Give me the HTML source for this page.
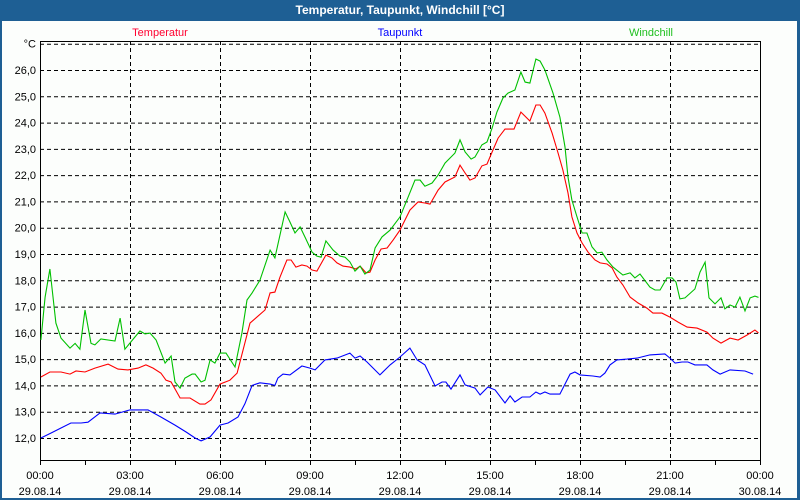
<!DOCTYPE html>
<html><head><meta charset="utf-8">
<style>
html,body{margin:0;padding:0;background:#fff;}
#wrap{position:relative;width:800px;height:500px;background:#1e5f94;overflow:hidden;font-family:"Liberation Sans",sans-serif;}
#title{position:absolute;left:0;top:0;width:800px;height:21px;line-height:21px;text-align:center;color:#fff;font-weight:bold;font-size:12px;}
#panel{position:absolute;left:2px;top:21px;width:795px;height:477px;background:#fcfefc;}
svg{position:absolute;left:0;top:0;}
svg text{font-family:"Liberation Sans",sans-serif;font-size:11px;}
</style></head>
<body>
<div id="wrap">
<div id="title">Temperatur, Taupunkt, Windchill [°C]</div>
<div id="panel"></div>
<svg id="chart" width="800" height="500"></svg>
</div>
<script>
const yTicks=[12,13,14,15,16,17,18,19,20,21,22,23,24,25,26];
const xTickHours=[0,3,6,9,12,15,18,21,24];
const xTimeLabels=["00:00","03:00","06:00","09:00","12:00","15:00","18:00","21:00","00:00"];
const xDateLabels=["29.08.14","29.08.14","29.08.14","29.08.14","29.08.14","29.08.14","29.08.14","29.08.14","30.08.14"];
const seriesNames=["Temperatur","Taupunkt","Windchill"];
const tempT=[0.03,0.33,0.70,1.00,1.20,1.50,1.83,2.27,2.60,2.93,3.27,3.53,3.77,4.03,4.20,4.37,4.67,5.00,5.33,5.50,5.70,6.00,6.33,6.57,6.77,7.00,7.23,7.50,7.67,7.83,8.00,8.23,8.37,8.53,8.73,8.90,9.07,9.23,9.53,9.73,9.90,10.10,10.33,10.53,10.67,10.87,11.00,11.17,11.37,11.57,11.77,12.00,12.33,12.60,12.83,13.00,13.27,13.50,13.83,14.00,14.17,14.33,14.50,14.73,14.90,15.07,15.27,15.50,15.80,16.03,16.33,16.53,16.67,16.83,17.07,17.27,17.43,17.60,17.73,17.90,18.07,18.27,18.50,18.67,18.90,19.07,19.23,19.43,19.67,19.93,20.23,20.43,20.73,21.00,21.27,21.57,21.90,22.23,22.43,22.70,23.00,23.27,23.57,23.83,23.95];
const tempV=[14.32,14.51,14.51,14.43,14.55,14.51,14.66,14.81,14.62,14.59,14.66,14.78,14.66,14.47,14.2,14.13,13.52,13.52,13.29,13.29,13.45,14.05,14.2,14.47,15.35,16.37,16.6,16.87,17.52,17.55,18.12,18.77,18.77,18.5,18.58,18.54,18.39,18.35,18.96,18.85,18.66,18.54,18.5,18.43,18.54,18.28,18.31,18.77,19.19,19.23,19.53,19.91,20.67,20.98,20.94,20.9,21.43,21.74,21.93,22.38,22.08,21.81,21.89,22.35,22.42,22.88,23.41,23.75,23.75,24.4,24.06,24.67,24.67,24.36,23.6,22.84,22.19,21.32,20.41,19.8,19.42,19.07,18.77,18.66,18.62,18.47,18.12,17.82,17.36,17.14,16.94,16.75,16.75,16.6,16.41,16.22,16.18,16.03,15.8,15.61,15.8,15.73,15.92,16.11,16.0];
const dewT=[0.03,0.37,0.70,1.03,1.37,1.60,2.00,2.50,3.00,3.60,4.03,4.50,4.87,5.17,5.37,5.67,6.00,6.27,6.60,6.83,7.07,7.33,7.67,7.83,7.93,8.10,8.33,8.73,9.00,9.17,9.50,9.90,10.33,10.50,10.67,10.90,11.33,11.67,12.00,12.33,12.57,12.83,13.17,13.40,13.53,13.70,14.00,14.17,14.50,14.67,14.93,15.17,15.50,15.67,15.83,16.07,16.33,16.53,16.67,16.83,17.00,17.33,17.67,17.83,18.00,18.43,18.67,18.83,19.00,19.23,19.57,19.90,20.33,20.83,21.00,21.17,21.40,21.60,21.83,22.23,22.43,22.67,23.00,23.50,23.77];
const dewV=[12.0,12.19,12.38,12.57,12.57,12.6,12.95,12.91,13.07,13.07,12.8,12.49,12.23,12.0,11.89,12.04,12.49,12.57,12.8,13.3,14.0,14.1,14.05,14.0,14.28,14.43,14.4,14.74,14.66,14.59,14.97,15.04,15.23,15.04,15.12,14.89,14.4,14.78,15.08,15.42,14.97,14.78,13.98,14.13,14.13,13.86,14.4,14.02,13.9,13.64,13.94,13.83,13.33,13.6,13.37,13.56,13.56,13.75,13.67,13.75,13.67,13.67,14.43,14.51,14.4,14.36,14.32,14.47,14.78,14.97,15.0,15.04,15.16,15.2,15.04,14.85,14.89,14.89,14.78,14.78,14.59,14.43,14.59,14.55,14.43];
const chillT=[0.03,0.17,0.33,0.53,0.70,1.00,1.17,1.33,1.50,1.70,1.83,2.03,2.50,2.67,2.83,3.33,3.50,3.67,3.87,4.17,4.37,4.50,4.67,4.83,5.07,5.17,5.37,5.50,5.67,5.83,6.00,6.20,6.50,6.73,6.90,7.07,7.33,7.67,7.83,8.17,8.33,8.50,8.67,8.83,9.07,9.23,9.37,9.53,9.77,10.00,10.17,10.33,10.50,10.67,10.83,11.00,11.17,11.40,11.67,12.00,12.23,12.50,12.67,12.83,13.07,13.27,13.50,13.83,14.00,14.17,14.37,14.50,14.73,14.90,15.07,15.23,15.43,15.60,15.83,16.03,16.17,16.33,16.53,16.67,16.83,17.10,17.33,17.50,17.60,17.73,17.90,18.07,18.23,18.40,18.57,18.73,18.90,19.10,19.43,19.67,19.83,20.00,20.33,20.50,20.67,20.90,21.07,21.20,21.33,21.50,21.83,22.00,22.17,22.30,22.50,22.70,22.83,23.00,23.17,23.33,23.50,23.67,23.83,23.95];
const chillV=[15.73,17.36,18.43,16.37,15.8,15.42,15.6,15.38,16.87,15.6,15.54,15.77,15.69,16.56,15.38,16.07,15.96,15.99,15.73,14.85,15.12,14.13,13.9,14.28,14.43,14.43,14.13,14.2,14.97,14.85,15.23,15.23,14.7,15.99,17.25,17.52,18.0,19.15,18.85,20.6,20.22,19.8,20.03,19.65,19.07,18.92,18.88,19.5,19.15,18.92,18.88,18.7,18.35,18.54,18.24,18.39,19.23,19.65,19.91,20.41,21.05,21.81,21.81,21.58,21.7,22.0,22.46,22.84,23.34,22.88,22.61,22.69,23.15,23.26,23.79,24.4,24.93,25.12,25.24,25.92,25.54,25.5,26.42,26.34,26.0,25.12,24.21,23.07,21.93,21.05,20.41,19.8,19.8,19.27,19.04,19.07,18.77,18.5,18.2,18.28,18.09,18.24,17.74,17.63,17.63,18.09,18.09,17.93,17.29,17.33,17.67,18.31,18.69,17.33,17.1,17.33,16.91,17.06,16.98,17.36,16.83,17.33,17.4,17.35];

const NS="http://www.w3.org/2000/svg";
const svg=document.getElementById('chart');
const L=40,R=760,T=41,B=460;
function xs(h){return L+(h/24)*(R-L);}
function ys(v){return 438-(v-12)*(368/14);}
function mk(tag,attrs){const e=document.createElementNS(NS,tag);for(const k in attrs)e.setAttribute(k,attrs[k]);svg.appendChild(e);return e;}

// horizontal grid + labels
yTicks.forEach(v=>{
  const g=mk('line',{x1:L,x2:R,y1:ys(v)+0.5,y2:ys(v)+0.5,stroke:'#000','stroke-dasharray':'4,3','stroke-width':1});
  
  
  const t=mk('text',{x:36,y:ys(v)+4,'text-anchor':'end',fill:'#000'});
  t.textContent=v.toFixed(1).replace('.',',');
  
  
});
const g27=mk('line',{x1:L,x2:R,y1:ys(27)+0.5,y2:ys(27)+0.5,stroke:'#000','stroke-dasharray':'4,3'});


const unit=mk('text',{x:36,y:ys(27)+4,'text-anchor':'end',fill:'#000'});
unit.textContent='°C';



// vertical grid + x labels
xTickHours.forEach((h,i)=>{
  const x=Math.round(xs(h))+0.5;
  if(h>0&&h<24){
    const g=mk('line',{x1:x,x2:x,y1:T,y2:B,stroke:'#000','stroke-dasharray':'4,3'});
    
    
  }
  const t1=mk('text',{x:xs(h),y:479,'text-anchor':'middle',fill:'#000'});
  t1.textContent=xTimeLabels[i];
  
  
  const t2=mk('text',{x:xs(h),y:495,'text-anchor':'middle',fill:'#000'});
  t2.textContent=xDateLabels[i];
  
  
});
for(let h=0;h<=24;h+=1.5){
  const x=Math.round(xs(h))+0.5;
  const tk=mk('line',{x1:x,x2:x,y1:B,y2:B+5,stroke:'#000'});
  
  
}
const frame=mk('rect',{x:L+0.5,y:T+0.5,width:R-L,height:B-T,fill:'none',stroke:'#000','stroke-width':1});



// series
function line(ts,vs,color,name){
  const p=ts.map((t,i)=>xs(t).toFixed(1)+','+ys(vs[i]).toFixed(1)).join(' ');
  const pl=mk('polyline',{points:p,fill:'none',stroke:color,'stroke-width':1.1});
  
  
}
line(dewT,dewV,'#0000ff','dewpoint-line');
line(tempT,tempV,'#ff0000','temperature-line');
line(chillT,chillV,'#00c000','windchill-line');

// legend
const legendX=[160,400,651];
const legendC=['#ff0030','#0000ff','#20c020'];
seriesNames.forEach((n,i)=>{
  const t=mk('text',{x:legendX[i],y:36,'text-anchor':'middle',fill:legendC[i]});
  t.textContent=n;
  
  
});
</script>
</body></html>
